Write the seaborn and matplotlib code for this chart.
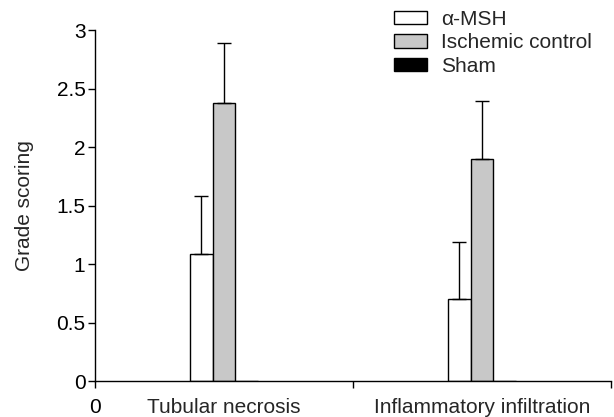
import pandas as pd
import matplotlib.pyplot as plt
import seaborn as sns
from matplotlib.patches import Patch

categories = ['Tubular necrosis', 'Inflammatory infiltration']
groups = ['α-MSH', 'Ischemic control', 'Sham']
msh_vals = [1.09, 0.70]
ischemic_vals = [2.38, 1.90]
sham_vals = [0.0, 0.0]
msh_err = [0.49, 0.49]
ischemic_err = [0.51, 0.49]
sham_err = [0.0, 0.0]

colors = {'α-MSH': '#ffffff', 'Ischemic control': '#c8c8c8', 'Sham': '#000000'}

rows = []
for g, vals, errs in zip(groups, [msh_vals, ischemic_vals, sham_vals],
                         [msh_err, ischemic_err, sham_err]):
    for c, v, e in zip(categories, vals, errs):
        rows.append({'category': c, 'group': g, 'score': v, 'err': e})
df = pd.DataFrame(rows)

sns.set_theme(style="ticks")
plt.rcParams['font.family'] = ['Liberation Sans', 'DejaVu Sans']
fs = 15

fig = plt.figure(figsize=(6.14, 4.17), dpi=100)
ax = fig.add_axes([0.155, 0.086, 0.84, 0.842])

sns.barplot(data=df, x='category', y='score', hue='group', order=categories,
            hue_order=groups, palette=colors, width=0.265, errorbar=None,
            edgecolor='black', linewidth=1.0, ax=ax, legend=False)

# upward-only error bars at the bar centres
for g, container in zip(groups, ax.containers):
    sub = df[df['group'] == g].set_index('category').loc[categories]
    xs = [p.get_x() + p.get_width() / 2 for p in container.patches]
    if sub['err'].sum() > 0:
        ax.errorbar(xs, sub['score'], yerr=[[0] * len(xs), sub['err']],
                    fmt='none', ecolor='black', elinewidth=1.0, capsize=4.8,
                    capthick=1.0)

ax.set_xlim(-0.5, 1.5)
ax.set_ylim(0, 3)
ax.set_yticks([0, 0.5, 1, 1.5, 2, 2.5, 3])
ax.set_yticklabels(['0', '0.5', '1', '1.5', '2', '2.5', '3'])
ax.set_xticks([-0.5, 0.5, 1.5])
ax.set_xticklabels(['0', '', ''])
ax.set_xticks([0, 1], minor=True)
ax.set_xticklabels(categories, minor=True)
ax.tick_params(axis='both', which='major', length=5, width=1, colors='black',
               labelsize=fs, direction='out', pad=2)
ax.tick_params(axis='x', which='major', pad=7)
ax.tick_params(axis='x', which='minor', length=0, pad=12, labelsize=fs)
ax.set_xlabel('')
ax.set_ylabel('Grade scoring', fontsize=fs, labelpad=16)
for s in ['top', 'right']:
    ax.spines[s].set_visible(False)
for s in ['left', 'bottom']:
    ax.spines[s].set_linewidth(1)
    ax.spines[s].set_color('black')

handles = [Patch(facecolor=colors[g], edgecolor='black', linewidth=1, label=g)
           for g in groups]
ax.legend(handles=handles, loc='upper right', bbox_to_anchor=(0.964, 1.058),
          frameon=False, fontsize=fs, handlelength=1.6, handleheight=0.62,
          labelspacing=0.22, handletextpad=0.7, borderaxespad=0,
          borderpad=0)

plt.savefig('out.png', dpi=100)
plt.close()
